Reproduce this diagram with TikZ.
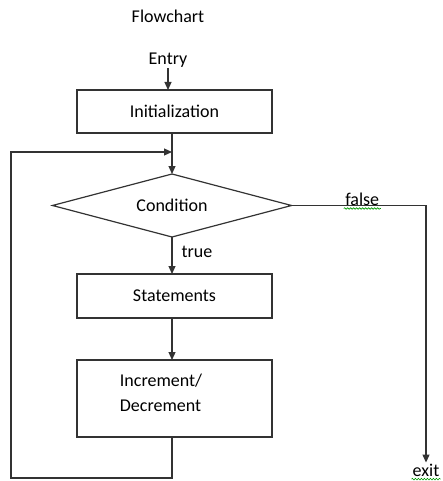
\documentclass[tikz,border=0pt]{standalone}
\usepackage{fontspec}
\setmainfont{Carlito}
\usepackage{tikz}
\usetikzlibrary{shapes.geometric,arrows.meta,decorations.pathmorphing}

\begin{document}
\begin{tikzpicture}[x=1pt,y=-1pt,
  every node/.style={font=\fontsize{18}{25}\selectfont, inner sep=1pt},
  line/.style={draw=black!80, line width=1.2pt},
  arr/.style={line, -{Triangle[length=8pt,width=7pt]}},
  box/.style={line, rectangle, minimum width=195pt, inner sep=0pt, outer sep=0pt},
  decision/.style={line, diamond, aspect=3.8, minimum width=239pt, minimum height=63pt, inner sep=0pt, outer sep=0pt},
  squiggle/.style={draw=green!60!black, line width=0.6pt, decorate, decoration={snake, amplitude=0.8pt, segment length=3pt}}]
  \useasboundingbox (0,0) rectangle (443,481);

  % the boxes
  \node (title) at (168,16) {Flowchart};
  \node (entry) at (168,60) {Entry};
  \node[box, minimum height=43pt] (init) at (174.5,111.5) {Initialization};
  \node[decision] (cond) at (172,205.5) {Condition};
  \node[box, minimum height=44pt] (stmt) at (174.5,296) {Statements};
  \node[box, minimum height=77pt] (incdec) at (174.5,398.5) {};
  \node[align=left] (incdectxt) at (161,392.5) {Increment/\\Decrement};
  \node (exit) at (426,470) {exit};

  \coordinate (loopbl) at (11,478);
  \coordinate (join) at (172,152);

  % the arrows
  \draw[arr] (entry.south) -- (entry.south |- init.north);
  \draw[arr] (cond.north |- init.south) -- (cond.north);
  \draw[arr] (cond.south) -- node[pos=0.4, anchor=west, xshift=8pt] (truelbl) {true} (cond.south |- stmt.north);
  \draw[arr] (cond.south |- stmt.south) -- (cond.south |- incdec.north);
  \draw[arr] (cond.south |- incdec.south) |- (loopbl) |- (join);
  \draw[arr] (cond.east) -| node[pos=0.263, anchor=base] (falselbl) {false} (exit.north);

  % spell check marks
  \draw[squiggle] ([yshift=-3pt]falselbl.base west) -- ([yshift=-3pt]falselbl.base east);
  \draw[squiggle] ([yshift=-3pt]exit.base west) -- ([yshift=-3pt]exit.base east);
\end{tikzpicture}
\end{document}
